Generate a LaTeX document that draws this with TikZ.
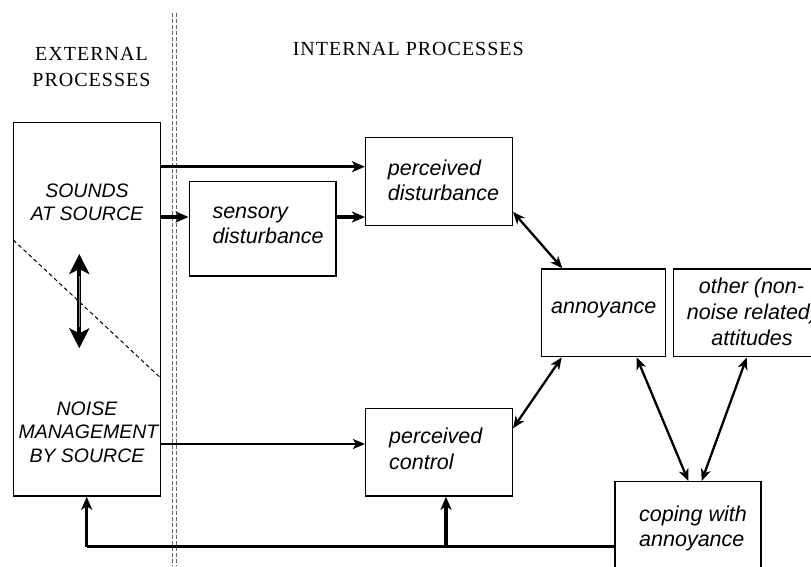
\documentclass[tikz,border=0pt]{standalone}
\usepackage{fontspec}
\usetikzlibrary{arrows.meta,calc}
\newfontfamily\lsans{Liberation Sans}
\newfontfamily\hserif[LetterSpace=5]{Liberation Serif}
\tikzset{
  boxnode/.style={draw=black, line width=1.5pt, inner sep=0pt, rectangle},
  lowtxt/.style={inner sep=0pt, anchor=base west, font=\lsans\itshape\fontsize{21.5}{25}\selectfont},
  lowctr/.style={inner sep=0pt, anchor=base, font=\lsans\itshape\fontsize{21.5}{25}\selectfont},
  captxt/.style={inner sep=0pt, anchor=base, font=\lsans\itshape\fontsize{19.5}{23}\selectfont},
  headtxt/.style={inner sep=0pt, anchor=base, font=\hserif\fontsize{20}{26}\selectfont},
  thickarrow/.style={line width=3.5pt, -{Stealth[length=13pt,width=11pt,inset=3.5pt]}},
  medarrow/.style={line width=2.6pt, -{Stealth[length=12pt,width=10pt,inset=3pt]}},
  dblarrow/.style={line width=2.3pt, {Stealth[length=12pt,width=10pt,inset=3.5pt]}-{Stealth[length=12pt,width=10pt,inset=3.5pt]}},
  bigarrow/.style={line width=4pt, {Stealth[length=20pt,width=20pt,inset=5pt]}-{Stealth[length=20pt,width=20pt,inset=5pt]}},
  sepline/.style={draw=black!60, line width=0.9pt, dash pattern=on 4pt off 2pt},
}
\begin{document}
\begin{tikzpicture}[x=1pt,y=-1pt]
\useasboundingbox (0,0) rectangle (811,566);
\clip (0,0) rectangle (811,566);

% separator (double dashed line)
\coordinate (sepA1) at (172.8,13);
\coordinate (sepA2) at (172.8,566);
\coordinate (sepB1) at (176,13);
\coordinate (sepB2) at (176,566);
\draw[sepline] (sepA1) -- (sepA2);
\draw[sepline] (sepB1) -- (sepB2);

% headers
\node[headtxt] (hext1) at (91.5,60) {EXTERNAL};
\node[headtxt] (hext2) at (91.5,86.7) {PROCESSES};
\node[headtxt] (hint) at (408.3,55) {INTERNAL PROCESSES};

% boxes
\node[boxnode, minimum width=147.4pt, minimum height=373.3pt] (src) at (87,309.35) {};
\node[boxnode, minimum width=146.7pt, minimum height=94.7pt] (sens) at (262.65,228.65) {};
\node[boxnode, minimum width=146.6pt, minimum height=88pt] (pdist) at (439,181.3) {};
\node[boxnode, minimum width=124pt, minimum height=87.7pt] (annoy) at (603.7,312.85) {};
\node[boxnode, minimum width=157.7pt, minimum height=87.7pt] (other) at (752.15,312.85) {};
\node[boxnode, minimum width=146.6pt, minimum height=87.7pt] (pctrl) at (439,452.15) {};
\node[boxnode, minimum width=146pt, minimum height=118.3pt] (coping) at (688,540.85) {};

% dashed diagonal in source box
\coordinate (diagA) at (13.3,240);
\coordinate (diagB) at (160.7,378);
\draw[line width=1pt, dash pattern=on 4pt off 3pt] (diagA) -- (diagB);

% texts
\node[captxt] (t1) at (87,197) {SOUNDS};
\node[captxt] (t2) at (87,220) {AT SOURCE};
\node[captxt] (t3) at (87,415) {NOISE};
\node[captxt] (t4) at (88.5,438) {MANAGEMENT};
\node[captxt] (t5) at (87,462) {BY SOURCE};

\node[lowtxt] (t6) at (212.3,218) {sensory};
\node[lowtxt] (t7) at (212.3,243) {disturbance};
\node[lowtxt] (t8) at (387.7,175) {perceived};
\node[lowtxt] (t9) at (387.7,200) {disturbance};
\node[lowctr] (t10) at (603.7,313) {annoyance};
\node[lowctr] (t11) at (751.5,293.5) {other (non-};
\node[lowctr] (t12) at (752,319.5) {noise related)};
\node[lowctr] (t13) at (752,345) {attitudes};
\node[lowtxt] (t14) at (389,443) {perceived};
\node[lowtxt] (t15) at (389,469) {control};
\node[lowtxt] (t16) at (639,521) {coping with};
\node[lowtxt] (t17) at (639,546) {annoyance};

% big vertical double arrow
\coordinate (vA) at (79.3,254);
\coordinate (vB) at (79.3,348.3);
\draw[bigarrow] (vA) -- (vB);
\coordinate (vA2) at (79.3,276);
\coordinate (vB2) at (79.3,327);
\draw[black!45, line width=1.2pt] (vA2) -- (vB2);

% horizontal arrows
\coordinate (y1) at (0,166.7);
\coordinate (y2) at (0,217);
\coordinate (y3) at (0,444);
\coordinate (y4) at (0,546.7);
\draw[thickarrow] (src.east |- y1) -- (pdist.west |- y1);
\draw[thickarrow] (src.east |- y2) -- (sens.west |- y2);
\draw[thickarrow] (sens.east |- y2) -- (pdist.west |- y2);
\draw[medarrow] (src.east |- y3) -- (pctrl.west |- y3);

% feedback line
\coordinate (fbx) at (86.7,0);
\coordinate (brx) at (446,0);
\draw[line width=3.5pt] (coping.west |- y4) -- (fbx |- y4);
\draw[thickarrow] (fbx |- y4) -- (fbx |- src.south);
\draw[thickarrow] (brx |- y4) -- (brx |- pctrl.south);

% double-headed arrows
\draw[dblarrow] (pdist.east |- 0,212) -- (annoy.north -| 562.3,0);
\draw[dblarrow] (annoy.south -| 561.7,0) -- (pctrl.east |- 0,428.3);
\draw[dblarrow] (annoy.south -| 636.7,0) -- (coping.north -| 688.3,0);
\draw[dblarrow] (other.south -| 746.7,0) -- (coping.north -| 701.7,0);
\end{tikzpicture}
\end{document}
